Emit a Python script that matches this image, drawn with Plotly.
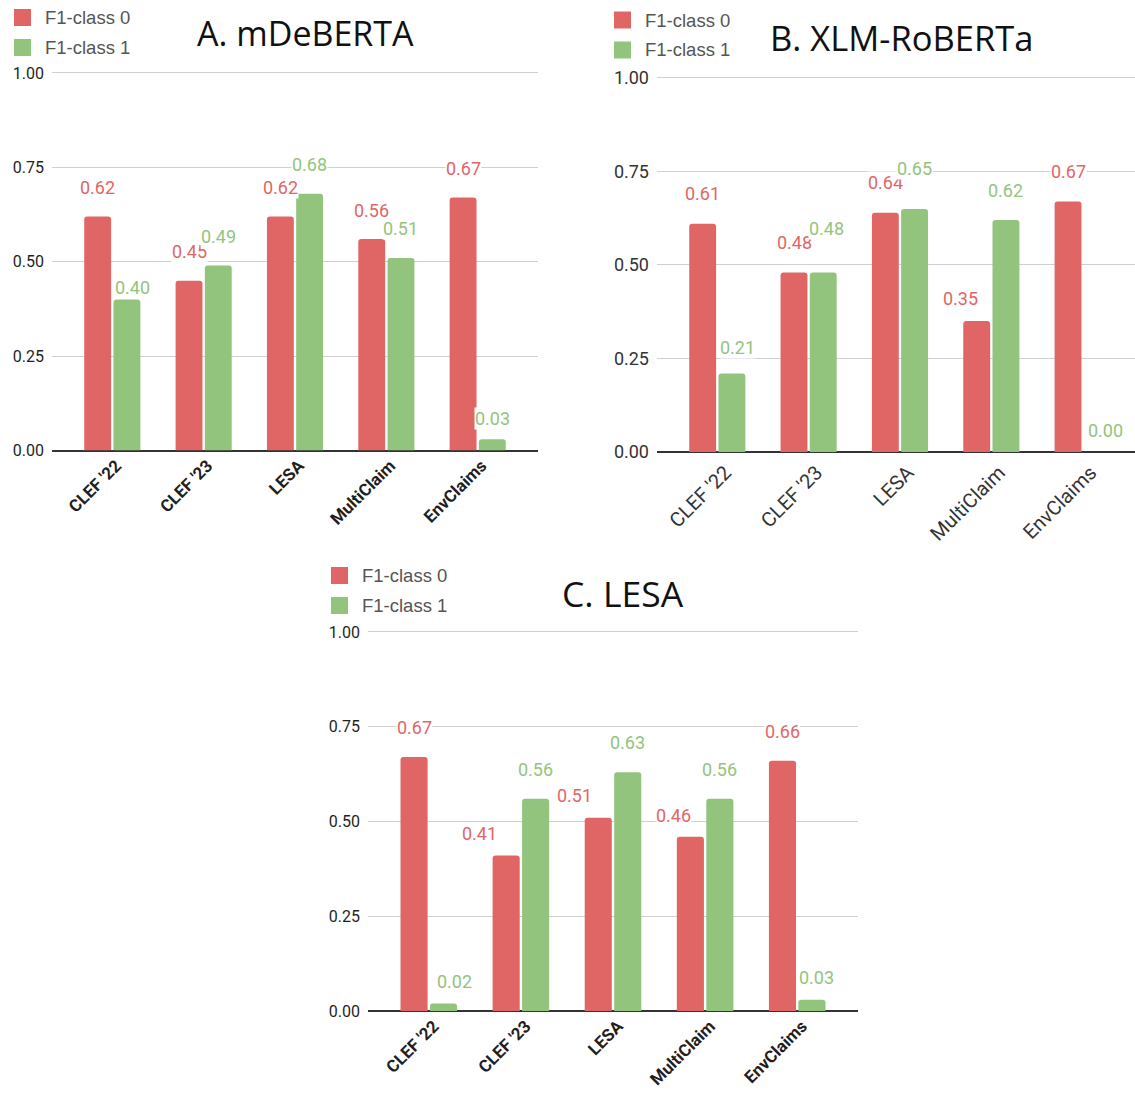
import plotly.graph_objects as go

# ---- data -------------------------------------------------------------
categories = ["CLEF '22", "CLEF '23", "LESA", "MultiClaim", "EnvClaims"]
series_names = ["F1-class 0", "F1-class 1"]
panel_titles = ["A. mDeBERTA", "B. XLM-RoBERTa", "C. LESA"]

mdeberta_class0 = [0.62, 0.45, 0.62, 0.56, 0.67]
mdeberta_class1 = [0.40, 0.49, 0.68, 0.51, 0.03]
xlmr_class0 = [0.61, 0.48, 0.64, 0.35, 0.67]
xlmr_class1 = [0.21, 0.48, 0.65, 0.62, 0.00]
lesa_class0 = [0.67, 0.41, 0.51, 0.46, 0.66]
lesa_class1 = [0.02, 0.56, 0.63, 0.56, 0.03]

y_ticks = [0.0, 0.25, 0.50, 0.75, 1.00]

panel_values = [
    (mdeberta_class0, mdeberta_class1),
    (xlmr_class0, xlmr_class1),
    (lesa_class0, lesa_class1),
]

# ---- style ------------------------------------------------------------
W, H = 1135, 1093
RED, GREEN = "#e06666", "#93c47d"
series_colors = [RED, GREEN]
BARGAP = 0.36
SLOT = (1 - BARGAP) / 4  # offset of each bar centre from the group centre
Y_TOP = 1.006            # a hair above 1.00 so the top gridline is kept


def px_x(p):
    return p / W


def px_y(p):
    return 1 - p / H


# per-panel layout: pixel box (left, right, y of 1.00, y of 0.00), fonts, title/legend spots
panels = [
    dict(box=(52, 538, 73, 450.5), xrange=[-0.66, 4.66],
         ytick_size=16, xtick=dict(family="Liberation Sans Narrow, Roboto", size=17,
                                    color="#1f1f1f", weight="bold"),
         xshift=4, xstandoff=1,
         ytick_color="#1f1f1f", title_xy=(305, 33), title_size=34,
         legend_xy=(14, 17.5), legend_text_x=43),
    dict(box=(657, 1135, 78, 452), xrange=[-0.66, 4.573],
         ytick_size=18, xtick=dict(family="Roboto", size=20, color="#333333"),
         xshift=8, xstandoff=4,
         ytick_color="#333333", title_xy=(901, 37), title_size=34.5,
         legend_xy=(614, 20), legend_text_x=643),
    dict(box=(368, 858, 632, 1011), xrange=[-0.66, 4.66],
         ytick_size=16, xtick=dict(family="Liberation Sans Narrow, Roboto", size=17,
                                    color="#1f1f1f", weight="bold"),
         xshift=5, xstandoff=1,
         ytick_color="#1f1f1f", title_xy=(623, 593), title_size=35.5,
         legend_xy=(331, 575.5), legend_text_x=360),
]

# vertical lift (px, bar top -> label centre) and horizontal nudge of each value label
label_lift = [
    ([29, 29, 29, 29, 29], [12, 29, 29, 29, 21]),
    ([30, 30, 30, 23, 30], [26, 44, 40, 30, 21]),
    ([30, 22, 22, 21, 29], [22, 29, 30, 29, 22]),
]
label_nudge = [
    ([0, 0, 0, 0, 0], [6, 0, 0, 0, 0]),
    ([0, 0, 0, -16, 0], [6, 3, 0, 0, 8]),
    ([0, -27, -24, -17, 0], [11, 0, 0, 0, 5]),
]

fig = go.Figure()
annotations = []
shapes = []

for i, (vals, cfg) in enumerate(zip(panel_values, panels)):
    n = "" if i == 0 else str(i + 1)
    xa, ya = "x" + n, "y" + n
    for s, (name, color, v) in enumerate(zip(series_names, series_colors, vals)):
        fig.add_trace(go.Bar(
            x=categories, y=v, name=name, xaxis=xa, yaxis=ya,
            marker=dict(color=color, line=dict(width=0), cornerradius=3),
            showlegend=False, hoverinfo="skip",
        ))
        for j, val in enumerate(v):
            annotations.append(dict(
                x=j + (2 * s - 1) * SLOT, y=val, xref=xa, yref=ya,
                text=f"{val:.2f}", showarrow=False,
                xanchor="center", yanchor="middle",
                yshift=label_lift[i][s][j], xshift=label_nudge[i][s][j],
                font=dict(family="Roboto", size=18, color=color),
                bgcolor="white", borderpad=0,
            ))

    x0, x1, y_one, y_zero = cfg["box"]
    unit = y_zero - y_one
    y_top_px = y_zero - unit * Y_TOP
    fig.layout["xaxis" + n] = dict(
        domain=[px_x(x0), px_x(x1)], anchor=ya, range=cfg["xrange"],
        type="category", tickangle=-45, showgrid=False, showline=False,
        zeroline=False, ticks="", fixedrange=True, automargin=False,
        tickfont=cfg["xtick"], ticklabelshift=cfg["xshift"],
        ticklabelstandoff=cfg["xstandoff"],
    )
    fig.layout["yaxis" + n] = dict(
        domain=[px_y(y_zero), px_y(y_top_px)], anchor=xa, range=[0, Y_TOP],
        tickvals=y_ticks, tickformat=".2f", showgrid=True,
        gridcolor="#d0d0d0", gridwidth=1.2, zeroline=True,
        zerolinecolor="#333333", zerolinewidth=1.6, showline=False,
        ticks="", ticklabelstandoff=7, fixedrange=True, automargin=False,
        tickfont=dict(family="Roboto", size=cfg["ytick_size"],
                      color=cfg["ytick_color"]),
    )

    # panel title
    tx, ty = cfg["title_xy"]
    annotations.append(dict(
        x=px_x(tx), y=px_y(ty), xref="paper", yref="paper",
        text=panel_titles[i], showarrow=False, xanchor="center", yanchor="middle",
        font=dict(family="Open Sans", size=cfg["title_size"], color="#111111"),
    ))

    # legend: coloured squares + series names
    lx, ly = cfg["legend_xy"]
    for s, (name, color) in enumerate(zip(series_names, series_colors)):
        cy = ly + 30 * s
        shapes.append(dict(
            type="rect", xref="paper", yref="paper",
            x0=px_x(lx), x1=px_x(lx + 17), y0=px_y(cy + 8.5), y1=px_y(cy - 8.5),
            fillcolor=color, line=dict(width=0),
        ))
        annotations.append(dict(
            x=px_x(cfg["legend_text_x"]), y=px_y(cy), xref="paper", yref="paper",
            text=name, showarrow=False, xanchor="left", yanchor="middle",
            font=dict(family="Liberation Sans, Arial", size=18.5, color="#555555"),
        ))

fig.update_layout(
    width=W, height=H, margin=dict(l=0, r=0, t=0, b=0, autoexpand=False),
    paper_bgcolor="white", plot_bgcolor="white",
    barmode="group", bargap=BARGAP, bargroupgap=0.08,
    annotations=annotations, shapes=shapes, hovermode=False,
)

fig.write_html("out.html")
